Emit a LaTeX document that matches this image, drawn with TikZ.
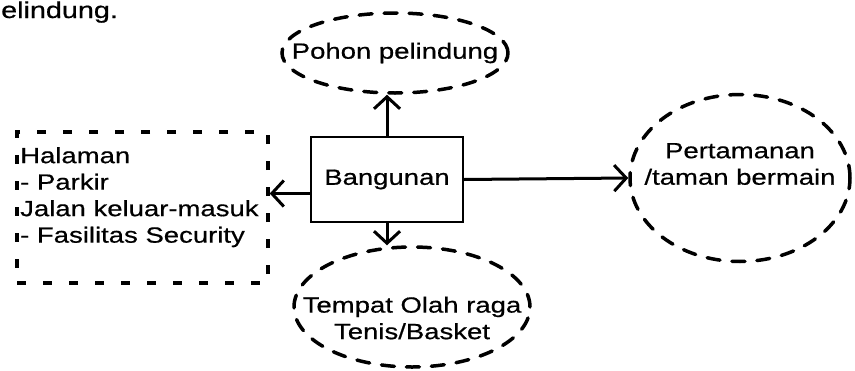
\documentclass[tikz,border=0pt]{standalone}
\usepackage{fontspec}
\setmainfont[FakeStretch=1.25, FakeBold=0.6]{Liberation Sans}
\usepackage{tikz}
\usetikzlibrary{arrows.meta}
\usetikzlibrary{shapes.geometric}

\newcommand{\teksdiag}{\fontsize{22}{26.5}\selectfont}

\begin{document}
\begin{tikzpicture}[
      x=1pt, y=-1pt,
      font=\teksdiag,
      kotak/.style={draw, line width=2pt, minimum width=152pt, minimum height=85pt, inner sep=0pt},
      lingkar/.style={ellipse, draw, line width=3.5pt, line cap=round, dash pattern=on 13pt off 12pt, inner sep=0pt},
      putus_putus/.style={draw, line width=3.5pt, dash pattern=on 9pt off 17pt, minimum width=251pt, minimum height=151pt, inner sep=0pt},
      panah/.style={line width=3pt, -{Straight Barb[length=12pt, width=26pt]}}
  ]

  \useasboundingbox (0, 0) rectangle (855, 370);

  % 1. Sisa kalimat di atas gambar
  \node[anchor=base west, inner sep=0pt, font=\fontsize{23}{28}\selectfont] (kalimat) at (1, 18) {elindung.};

  % 2. Kotak utama
  \node[kotak] (bangunan) at (387, 179.5) {Bangunan};

  % 3. Elips putus-putus
  \node[lingkar, minimum width=226pt, minimum height=80pt,
        label={center:Pohon pelindung}] (pohon) at (395, 53) {};
  \node[lingkar, minimum width=220pt, minimum height=167pt,
        label={[align=center, yshift=14pt]center:Pertamanan\\/taman bermain}] (taman) at (740, 178) {};
  \node[lingkar, minimum width=236pt, minimum height=120pt,
        label={[align=center, yshift=-11pt]center:Tempat Olah raga\\Tenis/Basket}] (olahraga) at (412, 307) {};

  % 4. Kotak putus-putus kiri
  \node[putus_putus] (halaman) at (142.5, 207.5) {};
  \node[anchor=north west, inner sep=0pt, align=left] (daftar) at (20, 147)
    {Halaman\\- Parkir\\Jalan keluar-masuk\\- Fasilitas Security};

  % 5. Panah
  \draw[panah] (bangunan.north) -- (bangunan.north |- pohon.south);
  \draw[panah] (bangunan.south) -- (bangunan.south |- olahraga.north);
  \draw[panah] (bangunan.east) -- (taman.west);
  \draw[panah] ([yshift=-14pt]bangunan.west) -- ([yshift=-14pt]bangunan.west -| halaman.east);

\end{tikzpicture}
\end{document}
